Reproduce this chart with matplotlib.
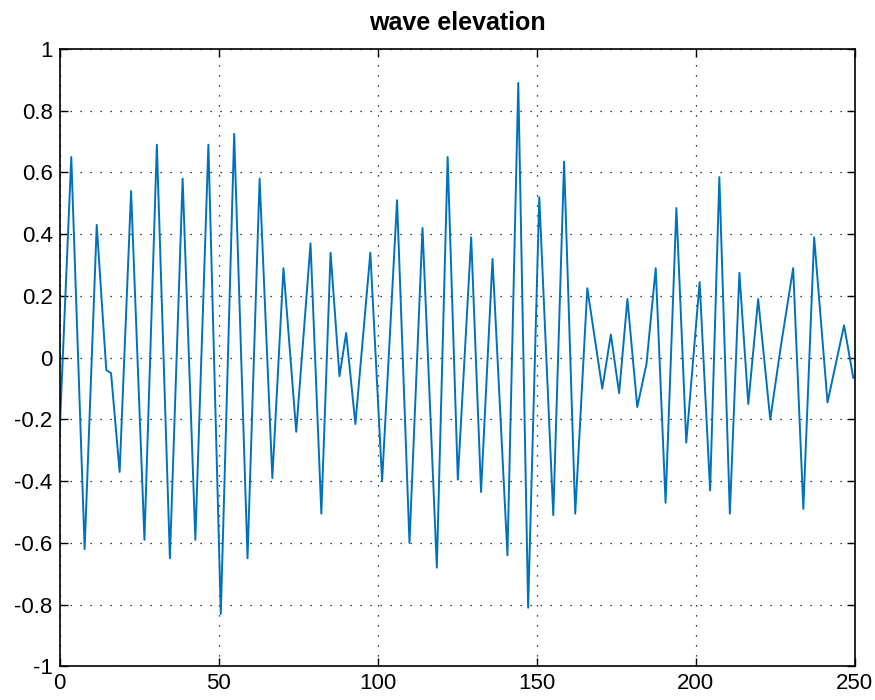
import matplotlib
matplotlib.use('Agg')
import matplotlib.pyplot as plt

# turning points of the record (time, elevation)
t = [0.0, 3.7, 7.9, 11.7, 14.7, 16.2, 18.9, 22.5, 26.7, 30.6, 34.7, 38.7,
     42.7, 46.8, 50.7, 54.9, 59.1, 62.9, 66.9, 70.4, 74.4, 78.9, 82.3,
     85.2, 88.0, 90.1, 93.0, 97.7, 101.4, 106.1, 110.0, 114.1, 118.6, 122.0,
     125.2, 129.4, 132.5, 136.1, 140.8, 144.2, 147.3, 150.8, 155.2, 158.6,
     162.1, 165.9, 170.6, 173.3, 175.9, 178.5, 181.6, 184.5, 187.4, 190.5,
     193.9, 197.0, 201.2, 204.5, 207.4, 210.7, 213.7, 216.5, 219.6, 223.4,
     226.7, 230.6, 233.8, 237.2, 241.4, 246.6, 249.5]
eta = [-0.25, 0.65, -0.62, 0.43, -0.04, -0.05, -0.37, 0.54, -0.59, 0.69, -0.65, 0.58,
       -0.59, 0.69, -0.83, 0.725, -0.65, 0.58, -0.39, 0.29, -0.24, 0.37, -0.505,
       0.34, -0.06, 0.08, -0.215, 0.34, -0.40, 0.51, -0.60, 0.42, -0.68, 0.65,
       -0.395, 0.39, -0.435, 0.32, -0.64, 0.89, -0.81, 0.52, -0.51, 0.635,
       -0.505, 0.225, -0.10, 0.075, -0.115, 0.19, -0.16, -0.02, 0.29, -0.47,
       0.485, -0.275, 0.245, -0.43, 0.585, -0.505, 0.275, -0.15, 0.19, -0.20,
       0.035, 0.29, -0.49, 0.39, -0.145, 0.105, -0.065]

xticks = [0, 50, 100, 150, 200, 250]
yticks = [-1, -0.8, -0.6, -0.4, -0.2, 0, 0.2, 0.4, 0.6, 0.8, 1]
yticklabels = ['-1', '-0.8', '-0.6', '-0.4', '-0.2', '0', '0.2', '0.4', '0.6', '0.8', '1']

plt.rcParams['font.family'] = ['Liberation Sans', 'DejaVu Sans']

fig = plt.figure(figsize=(8.75, 7), dpi=100)
ax = fig.add_axes([0.068, 0.048, 0.909, 0.882])

ax.plot(t, eta, color='#0072BD', linewidth=1.4)

ax.set_xlim(0, 250)
ax.set_ylim(-1, 1)
ax.set_xticks(xticks)
ax.set_yticks(yticks)
ax.set_yticklabels(yticklabels)
ax.tick_params(direction='in', top=True, right=True, labelsize=16, length=5.5, width=1,
               pad=5)
ax.grid(True, linestyle=(0, (1, 7)), color='black', linewidth=0.9)
for s in ax.spines.values():
    s.set_linewidth(1.2)

ax.set_title('wave elevation', fontsize=18, fontweight='bold', pad=14)

fig.savefig('out.png', dpi=100)
